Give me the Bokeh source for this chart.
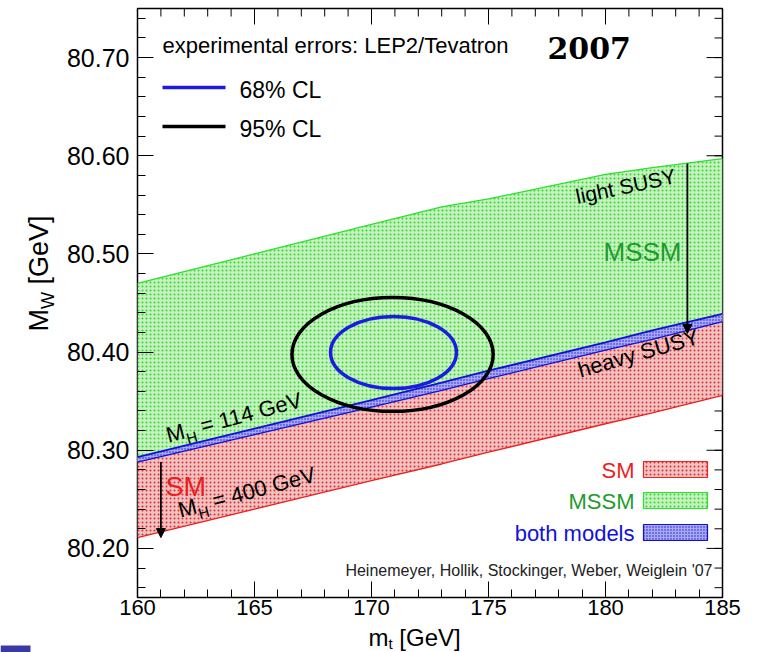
import math
from bokeh.plotting import figure
from bokeh.layouts import row, column
from bokeh.models import Range1d, FixedTicker, PrintfTickFormatter, Arrow, NormalHead
from bokeh.core.properties import value
from bokeh.embed import file_html
from bokeh.resources import INLINE

# ---------------- data ----------------
mt_grid    = [160, 165, 170, 173, 175, 180, 182, 185]
mssm_upper = [80.470, 80.500, 80.530, 80.548, 80.556, 80.581, 80.588, 80.597]   # light SUSY
mssm_lower = [80.288, 80.316, 80.344, 80.361, 80.373, 80.402, 80.413, 80.431]   # heavy SUSY
sm_upper   = [80.293, 80.322, 80.351, 80.369, 80.381, 80.410, 80.422, 80.439]   # M_H = 114 GeV
sm_lower   = [80.211, 80.240, 80.269, 80.286, 80.298, 80.327, 80.338, 80.356]   # M_H = 400 GeV

cl_names   = ["68% CL", "95% CL"]
cl_mt      = [170.94, 170.90]
cl_mw      = [80.3996, 80.3976]
cl_width   = [5.38, 8.60]
cl_height  = [0.0734, 0.1160]
cl_colors  = ["#1c1ce0", "#000000"]

arrow_mt   = [183.5, 161.0]
arrow_from = [80.592, 80.288]
arrow_to   = [80.419, 80.211]

x_major = [160, 165, 170, 175, 180, 185]
x_minor = [v for v in range(160, 186)]
y_major = [80.20, 80.30, 80.40, 80.50, 80.60, 80.70]
y_minor = [round(80.16 + 0.02 * i, 2) for i in range(30)]

# ---------------- geometry ----------------
W, H = 760, 652
LW = 60            # width of the left strip holding the y title
HB = 27            # height of the bottom strip holding the x title
FL, FR, FT, FB = 137, 722, 8, 597
X0, X1, Y0, Y1 = 160.0, 185.0, 80.15, 80.75
def dx(px): return X0 + (px - FL) * (X1 - X0) / (FR - FL)
def dy(py): return Y1 - (py - FT) * (Y1 - Y0) / (FB - FT)
XPP = (X1 - X0) / (FR - FL)
YPP = (Y1 - Y0) / (FB - FT)
BASE_FIX = 0.33    # anchor correction (in em) so that glyphs sit on the wanted baseline

FONT = "Liberation Sans"
CW = {'M': 833, 'H': 722, 'W': 944, 'm': 833, 't': 278, ' ': 278, '=': 584,
      '1': 556, '4': 556, '0': 556, 'G': 778, 'e': 556, 'V': 667, '[': 278, ']': 278}
def tw(s, size): return sum(CW.get(c, 556) for c in s) / 1000.0 * size

p = figure(width=W - LW, height=H - HB, output_backend="svg", toolbar_location=None,
           x_range=Range1d(X0, X1), y_range=Range1d(Y0, Y1),
           min_border_left=FL - LW, min_border_right=W - FR, min_border_top=FT,
           min_border_bottom=H - HB - FB)
p.background_fill_color = "white"
p.border_fill_color = "white"
p.outline_line_color = "black"
p.outline_line_width = 1.5
p.xgrid.visible = False
p.ygrid.visible = False

for ax in (p.xaxis[0], p.yaxis[0]):
    ax.axis_line_color = None
    ax.major_tick_in = 16
    ax.major_tick_out = 0
    ax.minor_tick_in = 8
    ax.minor_tick_out = 0
    ax.major_tick_line_color = "black"
    ax.minor_tick_line_color = "black"
    ax.major_label_text_font = FONT
    ax.major_label_text_color = "black"
p.xaxis[0].major_label_text_font_size = "22px"
p.yaxis[0].major_label_text_font_size = "25px"
p.xaxis[0].ticker = FixedTicker(ticks=x_major, minor_ticks=x_minor)
p.yaxis[0].ticker = FixedTicker(ticks=y_major, minor_ticks=y_minor)
p.yaxis[0].formatter = PrintfTickFormatter(format="%.2f")
p.xaxis[0].major_label_standoff = 2
p.yaxis[0].major_label_standoff = 8

# mirrored ticks on top and right
p.segment(x0=x_major, y0=[Y1] * len(x_major), x1=x_major, y1=[Y1 - 16 * YPP] * len(x_major), line_color="black")
p.segment(x0=x_minor, y0=[Y1] * len(x_minor), x1=x_minor, y1=[Y1 - 8 * YPP] * len(x_minor), line_color="black")
p.segment(x0=[X1] * len(y_major), y0=y_major, x1=[X1 - 16 * XPP] * len(y_major), y1=y_major, line_color="black")
p.segment(x0=[X1] * len(y_minor), y0=y_minor, x1=[X1 - 8 * XPP] * len(y_minor), y1=y_minor, line_color="black")

# ---------------- bands ----------------
RED = dict(fill_color="#f0c2c2", hatch_pattern="dot", hatch_color="#dd1515", hatch_scale=4, hatch_weight=1.3, hatch_alpha=0.85)
GRN = dict(fill_color="#c6f2c0", hatch_pattern="dot", hatch_color="#18d018", hatch_scale=4, hatch_weight=1.3, hatch_alpha=0.85)
BLU = dict(fill_color="#a8a8f4", hatch_pattern="dot", hatch_color="#1010c0", hatch_scale=3, hatch_weight=1.0, hatch_alpha=0.9)

p.varea(x=mt_grid, y1=sm_lower, y2=sm_upper, **RED)
p.varea(x=mt_grid, y1=mssm_lower, y2=mssm_upper, **GRN)
p.varea(x=mt_grid, y1=mssm_lower, y2=sm_upper, **BLU)
p.line(mt_grid, mssm_upper, line_color="#2ee02e", line_width=1.3)
p.line(mt_grid, sm_lower, line_color="#ee2020", line_width=1.3)
p.line(mt_grid, sm_upper, line_color="#1010d8", line_width=1.8)
p.line(mt_grid, mssm_lower, line_color="#1010d8", line_width=1.3)

# ---------------- CL ellipses ----------------
p.ellipse(x=cl_mt, y=cl_mw, width=cl_width, height=cl_height,
          fill_color=None, line_color=cl_colors, line_width=3.5)

# ---------------- arrows ----------------
for xm, y_a, y_b in zip(arrow_mt, arrow_from, arrow_to):
    p.add_layout(Arrow(end=NormalHead(size=9, fill_color="black", line_color="black"),
                       x_start=xm, y_start=y_a, x_end=xm, y_end=y_b,
                       line_color="black", line_width=1.8))

# ---------------- texts (positions given in page pixels, baseline-left unless aligned) ----------------
def place(fig, conv, s, px, py, size, color="black", align="left", font=FONT, style="normal", deg=0.0):
    th = math.radians(deg)
    vx, vy = math.sin(th), math.cos(th)          # "down" direction of the text on the page
    qx = px - vx * BASE_FIX * size
    qy = py - vy * BASE_FIX * size
    cx, cy = conv(qx, qy)
    fig.text(x=[cx], y=[cy], text=[s], text_font=value(font), text_font_size=f"{size}px",
             text_color=color, text_align=align, text_baseline="alphabetic", text_font_style=style,
             angle=th)

main_conv = lambda a, b: (dx(a), dy(b))
page_conv = lambda a, b: (a, b)

def ptxt(s, px, py, size, **kw):
    place(p, main_conv, s, px, py, size, **kw)

def comp(fig, conv, parts, px, py, deg):
    """Draw text pieces one after another along a (rotated) baseline."""
    th = math.radians(deg)
    ux, uy = math.cos(th), -math.sin(th)
    vx, vy = math.sin(th), math.cos(th)
    off = 0.0
    for s, size, drop in parts:
        stripped = s.lstrip(" ")
        off += tw(s[:len(s) - len(stripped)], size)
        qx = px + ux * off + vx * drop
        qy = py + uy * off + vy * drop
        place(fig, conv, stripped, qx, qy, size, deg=deg)
        off += tw(stripped, size)

# top-left legend
ptxt("experimental errors: LEP2/Tevatron", 162, 52, 22)
ptxt("2007", 547, 57, 30, font="DejaVu Serif", style="bold")
p.line([dx(162), dx(225)], [dy(87), dy(87)], line_color=cl_colors[0], line_width=3.5)
p.line([dx(162), dx(225)], [dy(126), dy(126)], line_color=cl_colors[1], line_width=3.5)
ptxt(cl_names[0], 239, 97, 23)
ptxt(cl_names[1], 239, 136, 23)

# band annotations
ptxt("light SUSY", 577, 203, 21, deg=12)
ptxt("MSSM", 603, 260, 26, color="#1e9b2e")
ptxt("heavy SUSY", 580, 377, 22, deg=16)
ptxt("SM", 165, 495, 27, color="#ee1c1c")
comp(p, main_conv, [("M", 22, 0), ("H", 15, 6), (" = 114 GeV", 22, 0)], 168, 442, 15)
comp(p, main_conv, [("M", 22, 0), ("H", 15, 6), (" = 400 GeV", 22, 0)], 180, 517, 15)

# model legend
leg_names = ["SM", "MSSM", "both models"]
leg_colors = ["#ee1c1c", "#1e9b2e", "#1010e0"]
leg_styles = [RED, GRN, BLU]
leg_edges = ["#ee2020", "#2ee02e", "#1010d8"]
leg_top = [461, 492, 524]
for name, col, sty, edge, tp in zip(leg_names, leg_colors, leg_styles, leg_edges, leg_top):
    ptxt(name, 634, tp + 16, 22, color=col, align="right")
    p.quad(left=[dx(643)], right=[dx(707)], top=[dy(tp)], bottom=[dy(tp + 16)],
           line_color=edge, line_width=1.2, **sty)

ptxt("Heinemeyer, Hollik, Stockinger, Weber, Weiglein '07", 712, 575, 16, color="#222222", align="right")

# ---------------- side strips for the axis titles ----------------
def strip(w, h, xs, xe, ys, ye):
    f = figure(width=w, height=h, output_backend="svg", toolbar_location=None,
               x_range=Range1d(xs, xe), y_range=Range1d(ys, ye),
               min_border=0, min_border_left=0, min_border_right=0, min_border_top=0, min_border_bottom=0)
    f.axis.visible = False
    f.grid.visible = False
    f.outline_line_color = None
    f.background_fill_color = "white"
    f.border_fill_color = "white"
    return f

# left strip: page pixels (y downward)
left = strip(LW, H, 0, LW, H, 0)
comp(left, page_conv, [("M", 27, 0), ("W", 18, 6), (" [GeV]", 27, 0)], 47, 331, 90)
left.quad(left=[0], right=[30], top=[645], bottom=[H], fill_color="#3a3aa6", line_color=None)

# bottom strip: its frame is aligned with the main frame (page x 137..722, y 625..652)
bottom = strip(W - LW, HB, FL, FR, H, H - HB)
comp(bottom, page_conv, [("m", 24, 0), ("t", 15, 3), (" [GeV]", 24, 0)], 368, 645, 0)

layout = row(left, column(p, bottom, spacing=0), spacing=0)
open("out.html", "w").write(file_html(layout, INLINE))
